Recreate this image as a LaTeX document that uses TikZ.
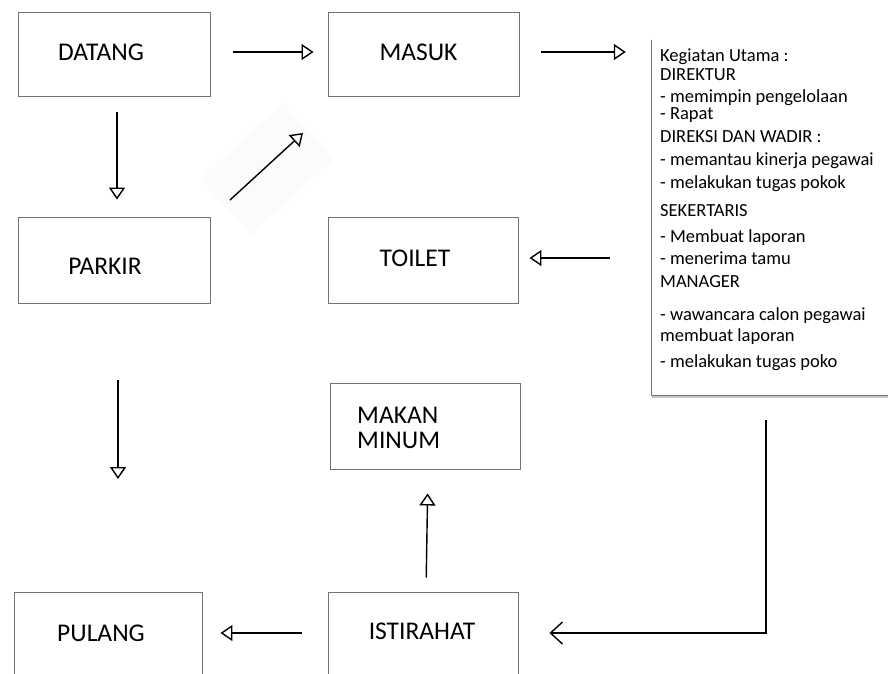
\documentclass[tikz,border=0pt]{standalone}
\usepackage{fontspec}
\setmainfont{Carlito}
\usetikzlibrary{arrows.meta,calc}

\begin{document}
\begin{tikzpicture}[x=1pt,y=-1pt,
  box/.style={draw=black!55, line width=0.9pt, rectangle, inner sep=0pt},
  lbl/.style={inner sep=0pt, font=\fontsize{25.5}{28}\selectfont},
  flow/.style={draw=black, line width=1.4pt,
    -{Triangle[open, length=12pt, width=16pt]}},
  barb/.style={draw=black, line width=1.4pt,
    -{Straight Barb[length=12pt, width=22pt]}},
  listtxt/.style={anchor=base west, inner sep=0pt,
    font=\fontsize{18.5}{21}\selectfont}]

\useasboundingbox (0,0) rectangle (888,673);
\fill[white] (0,0) rectangle (888,673);

% faint backdrop behind the diagonal arrow
\fill[black!1.5] (334,159) -- (282.6,103.1) -- (200,179) -- (251.4,234.9) -- cycle;

% process boxes
\node[box, minimum width=192pt, minimum height=84pt] (datang) at (114,54) {};
\node[box, minimum width=191pt, minimum height=84pt] (masuk) at (423.5,54) {};
\node[box, minimum width=192pt, minimum height=86pt] (parkir) at (114,260) {};
\node[box, minimum width=190pt, minimum height=86pt] (toilet) at (423,260) {};
\node[box, minimum width=190pt, minimum height=86pt] (makan) at (425,426) {};
\node[box, minimum width=188pt, minimum height=84pt] (pulang) at (108,634) {};
\node[box, minimum width=190pt, minimum height=84pt] (istirahat) at (423,634) {};

% box captions
\node[lbl] (tDatang) at ($(datang)+(-13,-2)$) {DATANG};
\node[lbl] (tMasuk) at ($(masuk)+(-5,-2)$) {MASUK};
\node[lbl] (tParkir) at ($(parkir)+(-9,6)$) {PARKIR};
\node[lbl] (tToilet) at ($(toilet)+(-8,-2)$) {TOILET};
\node[lbl, align=left, anchor=west, font=\fontsize{25.5}{25}\selectfont]
  (tMakan) at (357,428) {MAKAN\\MINUM};
\node[lbl] (tPulang) at ($(pulang)+(-7,-1)$) {PULANG};
\node[lbl] (tIstirahat) at ($(istirahat)+(-1,-3)$) {ISTIRAHAT};

% activity list panel: left edge and shaded bottom edge only
\node[rectangle, inner sep=0pt, minimum width=248pt, minimum height=355pt]
  (keg) at (776,217.5) {};
\draw[black!22, line width=1.6pt] ([yshift=-2pt]keg.south west) -- ([yshift=-2pt]keg.south east);
\draw[black!55, line width=0.9pt] (keg.north west) -- (keg.south west) -- (keg.south east);
\foreach \yy/\tt [count=\i] in {
  61/Kegiatan Utama :,
  80/DIREKTUR,
  102/- memimpin pengelolaan,
  119/- Rapat,
  142/DIREKSI DAN WADIR :,
  165/- memantau kinerja pegawai,
  188/- melakukan tugas pokok,
  216/SEKERTARIS,
  242/- Membuat laporan,
  264/- menerima tamu,
  287/MANAGER,
  320/- wawancara calon pegawai,
  341/membuat laporan,
  367/- melakukan tugas poko}
  \node[listtxt] (ln\i) at (660,\yy) {\tt};

% connectors
\coordinate (dgA) at (230,200);
\coordinate (dgB) at (303,133);
\coordinate (pkEnd) at (118,479);
\coordinate (elbTop) at (766,420);

\draw[flow, shorten <=23pt, shorten >=14pt] ([yshift=2pt]datang.east) -- ([yshift=2pt]masuk.west);
\draw[flow, shorten <=22pt, shorten >=26pt] ([yshift=2pt]masuk.east) -- ([yshift=2pt]masuk.east -| keg.west);
\draw[flow, shorten <=16pt, shorten >=17pt] ([xshift=3pt]datang.south) -- ([xshift=3pt]parkir.north);
\draw[flow] (dgA) -- (dgB);
\draw[flow, shorten <=42pt, shorten >=11pt] ([yshift=2pt]toilet.east -| keg.west) -- ([yshift=2pt]toilet.east);
\draw[flow, shorten <=77pt] ([xshift=4pt]parkir.south) -- (pkEnd);
\draw[flow, shorten <=14pt, shorten >=24pt] ([xshift=3pt]istirahat.north) -- ([xshift=3pt]makan.south);
\draw[flow, shorten <=26pt, shorten >=18pt] ([yshift=1pt]istirahat.west) -- ([yshift=1pt]pulang.east);
\draw[barb, shorten >=31pt] (elbTop) |- ([yshift=1pt]istirahat.east);

\end{tikzpicture}
\end{document}
